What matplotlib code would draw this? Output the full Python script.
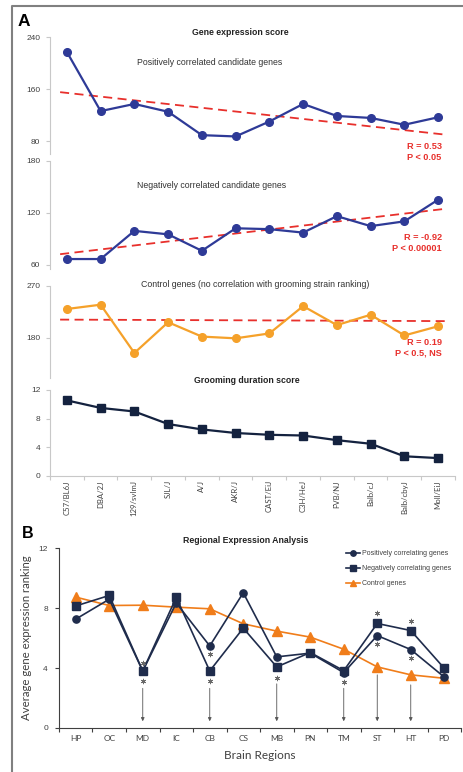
import numpy as np
import matplotlib
matplotlib.use("Agg")
import matplotlib.pyplot as plt
from matplotlib.lines import Line2D

plt.rcParams['font.family'] = ['Liberation Sans', 'DejaVu Sans']

# ---- panel A data ----
strains = ['C57/BL6J', 'DBA/2J', '129/svImJ', 'SJL/J', 'A/J', 'AKR/J', 'CAST/EiJ',
           'C3H/HeJ', 'FVB/NJ', 'Balb/cJ', 'Balb/cbyJ', 'Moll/EiJ']
pos_genes = [217, 126, 137, 125, 89, 87, 110, 137, 118.5, 115.5, 105, 116.5]
neg_genes = [66.5, 66.5, 99, 95, 76, 102, 101, 97, 116, 104.5, 110, 135]
ctrl_genes = [230, 237.5, 153.5, 207, 182, 179, 187.5, 235, 202, 220, 184, 200]
grooming = [10.55, 9.5, 9.0, 7.25, 6.5, 6.0, 5.75, 5.65, 5.0, 4.5, 2.75, 2.5]
# trend line values read at first and last strain
pos_trend = [154, 91]
neg_trend = [73, 123.5]
ctrl_trend = [211.5, 209]
pos_stats = 'R = 0.53\nP < 0.05'
neg_stats = 'R = -0.92\nP < 0.00001'
ctrl_stats = 'R = 0.19\nP < 0.5, NS'

# ---- panel B data ----
regions = ['HP', 'OC', 'MD', 'IC', 'CB', 'CS', 'MB', 'PN', 'TM', 'ST', 'HT', 'PD']
reg_pos = [7.27, 8.6, 3.8, 8.35, 5.48, 9.03, 4.75, 5.0, 3.7, 6.17, 5.24, 3.4]
reg_neg = [8.15, 8.85, 3.81, 8.72, 3.81, 6.67, 4.08, 5.04, 3.83, 6.98, 6.51, 3.99]
reg_ctrl = [8.74, 8.18, 8.2, 8.07, 7.96, 6.96, 6.47, 6.07, 5.26, 4.08, 3.55, 3.32]
star_region = ['MD', 'MD', 'CB', 'CB', 'MB', 'TM', 'ST', 'ST', 'HT', 'HT']
star_level = [4.35, 3.15, 4.95, 3.15, 3.35, 3.05, 7.65, 5.6, 7.15, 4.7]
arrow_region = ['MD', 'CB', 'MB', 'TM', 'ST', 'HT']
arrow_start = [2.65, 2.65, 2.95, 2.65, 3.55, 2.88]

W, H = 464, 772
fig = plt.figure(figsize=(W / 100, H / 100), dpi=100)


def px_axes(l, t, r, b):
    return fig.add_axes([l / W, 1 - b / H, (r - l) / W, (b - t) / H])


BLUE = '#2e3a97'
ORANGE = '#f5a12a'
RED = '#e8302c'
NAVY = '#14223f'
GRAY = '#404040'
x = np.arange(len(strains))
tx = np.array([-0.2, 11.2])


def style_a(ax, ylim, yticks):
    ax.set_xlim(-0.5, 11.5)
    ax.set_ylim(*ylim)
    ax.set_yticks(yticks)
    for s in ['top', 'right', 'bottom']:
        ax.spines[s].set_visible(False)
    ax.spines['left'].set_color('#c8c8c8')
    ax.spines['left'].set_linewidth(0.8)
    ax.tick_params(axis='y', labelsize=6, colors='#c8c8c8', labelcolor=GRAY,
                   length=3, width=0.8, pad=4)
    ax.set_xticks([])
    ax.patch.set_alpha(0)


def trend(ax, vals):
    slope = (vals[1] - vals[0]) / (len(strains) - 1)
    ax.plot(tx, vals[0] + slope * tx, color=RED, ls=(0, (5, 3)), lw=1.3, zorder=1)


ax1 = px_axes(50, 37, 455, 154)
style_a(ax1, (60, 240), [80, 160, 240])
trend(ax1, pos_trend)
ax1.plot(x, pos_genes, color=BLUE, marker='o', ms=5.5, lw=1.6, zorder=3)
ax1.text(0.47, 1.04, 'Gene expression score', transform=ax1.transAxes, ha='center',
         va='center', fontsize=6.3, fontweight='bold', color='#222222')
ax1.text(0.395, 0.78, 'Positively correlated candidate genes', transform=ax1.transAxes,
         ha='center', va='center', fontsize=6.3, color='#333333')
ax1.text(0.967, 0.02, pos_stats, transform=ax1.transAxes, ha='right', va='center',
         fontsize=6.6, fontweight='bold', color=RED, linespacing=1.25)

ax2 = px_axes(50, 160.7, 455, 269)
style_a(ax2, (55, 180), [60, 120, 180])
trend(ax2, neg_trend)
ax2.plot(x, neg_genes, color=BLUE, marker='o', ms=5.5, lw=1.6, zorder=3)
ax2.text(0.4, 0.77, 'Negatively correlated candidate genes', transform=ax2.transAxes,
         ha='center', va='center', fontsize=6.3, color='#333333')
ax2.text(0.967, 0.24, neg_stats, transform=ax2.transAxes, ha='right', va='center',
         fontsize=6.6, fontweight='bold', color=RED, linespacing=1.25)

ax3 = px_axes(50, 286, 455, 378)
style_a(ax3, (110, 270), [180, 270])
trend(ax3, ctrl_trend)
ax3.plot(x, ctrl_genes, color=ORANGE, marker='o', ms=5.5, lw=1.6, zorder=3)
ax3.text(0.507, 1.015, 'Control genes (no correlation with grooming strain ranking)',
         transform=ax3.transAxes, ha='center', va='center', fontsize=6.3, color='#333333')
ax3.text(0.967, 0.33, ctrl_stats, transform=ax3.transAxes, ha='right', va='center',
         fontsize=6.6, fontweight='bold', color=RED, linespacing=1.25)

ax4 = px_axes(50, 390, 455, 476)
style_a(ax4, (0, 12), [0, 4, 8, 12])
ax4.plot(x, grooming, color=NAVY, marker='s', ms=5.5, lw=1.6, zorder=3)
ax4.spines['bottom'].set_visible(True)
ax4.spines['bottom'].set_color('#c8c8c8')
ax4.spines['bottom'].set_linewidth(0.8)
ax4.set_xticks(np.arange(-0.5, 12, 1))
ax4.set_xticks(x, minor=True)
ax4.set_xticklabels([])
ax4.set_xticklabels(strains, minor=True, rotation=90, fontsize=5.6, family='Lato',
                    color=GRAY)
ax4.tick_params(axis='x', which='major', length=3, width=0.8, colors='#c8c8c8')
ax4.tick_params(axis='x', which='minor', length=0, pad=3)
ax4.text(0.485, 1.11, 'Grooming duration score', transform=ax4.transAxes, ha='center',
         va='center', fontsize=6.3, fontweight='bold', color='#222222')

# ---- panel B ----
axb = px_axes(59, 548.3, 461, 728)
xb = np.arange(len(regions))
B_NAVY = '#1f2c4c'
B_ORANGE = '#f07d1a'
axb.plot(xb, reg_pos, color=B_NAVY, marker='o', ms=5.2, lw=1.2, zorder=3,
         label='Positively correlating genes')
axb.plot(xb, reg_neg, color=B_NAVY, marker='s', ms=5.8, lw=1.2, zorder=4,
         label='Negatively correlating genes')
axb.plot(xb, reg_ctrl, color=B_ORANGE, marker='^', ms=6.5, lw=1.2, zorder=2,
         label='Control genes')
sx = [regions.index(r) for r in star_region]
axb.plot(sx, star_level, ls='none', marker=(6, 2, 0), ms=3.8, mew=0.6, color='#6a6a6a',
         zorder=5)
for r, y0 in zip(arrow_region, arrow_start):
    i = regions.index(r)
    axb.annotate('', xy=(i, 0.45), xytext=(i, y0),
                 arrowprops=dict(arrowstyle='-|>', color='#555555', lw=0.6,
                                 mutation_scale=5, shrinkA=0, shrinkB=0))
axb.set_xlim(-0.5, 11.5)
axb.set_ylim(0, 12)
axb.set_yticks([0, 4, 8, 12])
axb.set_xticks(np.arange(-0.5, 12, 1))
axb.set_xticks(xb, minor=True)
axb.set_xticklabels([])
axb.set_xticklabels(regions, minor=True, fontsize=6, family='Lato', color=GRAY)
axb.tick_params(axis='x', which='major', length=3, width=0.8, colors=GRAY)
axb.tick_params(axis='x', which='minor', length=0, pad=5)
axb.tick_params(axis='y', labelsize=6, length=3, width=0.8, colors=GRAY, pad=5)
for s in ['top', 'right']:
    axb.spines[s].set_visible(False)
for s in ['left', 'bottom']:
    axb.spines[s].set_color(GRAY)
    axb.spines[s].set_linewidth(0.8)
axb.set_title('Regional Expression Analysis', fontsize=6.3, fontweight='bold',
              color='#222222', pad=4, x=0.465)
axb.set_ylabel('Average gene expression ranking', family='Lato', fontsize=8.2,
               color=GRAY, labelpad=5)
axb.set_xlabel('Brain Regions', family='Lato', fontsize=8.5, color=GRAY, labelpad=6)
leg = axb.legend(loc='upper left', bbox_to_anchor=(343 / W, 1 - 547 / H),
                 bbox_transform=fig.transFigure, frameon=False, fontsize=5,
                 handlelength=1.9, handletextpad=0.4, labelspacing=1.15,
                 borderpad=0, markerscale=0.75)
for t in leg.get_texts():
    t.set_color(GRAY)

# panel letters and frame
fig.text(18 / W, 1 - 22 / H, 'A', fontsize=12.5, fontweight='bold', va='center')
fig.text(22 / W, 1 - 534 / H, 'B', fontsize=11.5, fontweight='bold', va='center')
fig.add_artist(Line2D([12 / W, 12 / W, 1], [0, 1 - 6 / H, 1 - 6 / H],
                      transform=fig.transFigure, color='#808080', lw=1.5))

fig.savefig('out.png', dpi=100)
